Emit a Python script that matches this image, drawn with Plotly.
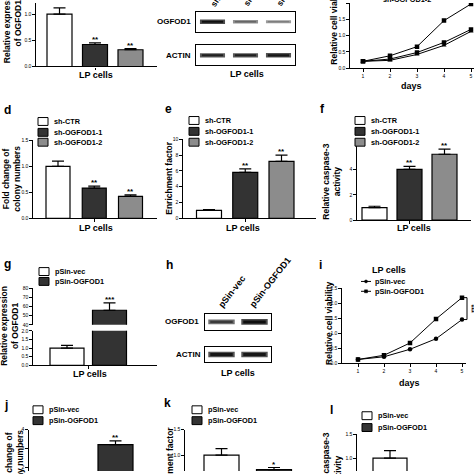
import plotly.graph_objects as go

# ---------------- data ----------------
sh_groups = ["sh-CTR", "sh-OGFOD1-1", "sh-OGFOD1-2"]
ps_groups = ["pSin-vec", "pSin-OGFOD1"]
bar_colors = ["#ffffff", "#333333", "#8c8c8c"]

a_expr = [1.00, 0.42, 0.32]
a_err = [0.12, 0.03, 0.02]
a_sig = ["", "**", "**"]

b_ogfod1_band = [1.0, 0.5, 0.42]
b_actin_band = [0.9, 0.9, 0.95]

days = [1, 2, 3, 4, 5]
c_ctr = [0.21, 0.38, 0.66, 1.46, 1.97]
c_sh1 = [0.21, 0.28, 0.48, 0.79, 1.19]
c_sh2 = [0.21, 0.24, 0.42, 0.70, 1.13]

d_colony = [1.00, 0.58, 0.42]
d_err = [0.10, 0.04, 0.03]
d_sig = ["", "**", "**"]

e_enrich = [1.0, 5.8, 7.2]
e_err = [0.08, 0.45, 0.8]
e_sig = ["", "**", "**"]

f_casp = [1.0, 4.0, 5.2]
f_err = [0.1, 0.25, 0.4]
f_sig = ["", "**", "**"]

g_expr = [1.0, 56.0]
g_err = [0.16, 8.0]
g_sig = ["", "***"]

h_ogfod1_band = [0.75, 1.0]
h_actin_band = [0.95, 0.95]

i_vec = [0.13, 0.22, 0.47, 0.82, 1.46]
i_ogfod1 = [0.13, 0.27, 0.68, 1.48, 2.19]
i_sig = "***"

j_colony = [1.0, 3.2]
j_err = [0.1, 0.2]
j_sig = ["", "**"]

k_enrich = [1.0, 0.72]
k_err = [0.13, 0.04]
k_sig = ["", "*"]

l_casp = [1.0, 0.6]
l_err = [0.16, 0.05]
l_sig = ["", ""]

# ---------------- helpers ----------------
W = H = 474
FONT = "Liberation Sans, Arial, sans-serif"
LW = 1.2
fig = go.Figure()
n_ax = [0]


def clamp(v):
    return max(0.0, min(1.0, v))


def xp(x):
    return x / W


def yp(y):
    return 1 - y / H


def ann(text, x, y, size=8.5, xanchor="center", yanchor="middle", angle=0,
        xref="paper", yref="paper", bold=True):
    if xref == "paper":
        x = xp(x)
    if yref == "paper":
        y = yp(y)
    fig.add_annotation(text=("<b>%s</b>" % text) if bold else text, x=x, y=y,
                       xref=xref, yref=yref, xanchor=xanchor, yanchor=yanchor,
                       textangle=angle, showarrow=False,
                       font=dict(family=FONT, size=size, color="black"))


def yaxis_style(tickvals, ticktext):
    return dict(showline=True, linecolor="black", linewidth=LW, ticks="outside",
                ticklen=2.5, tickwidth=1, tickcolor="black", tickvals=tickvals,
                ticktext=ticktext, showticklabels=True,
                tickfont=dict(family=FONT, size=5, color="black"))


def add_axes(xdom, ydom, xr, yr, xopts=None, yopts=None):
    n_ax[0] += 1
    n = n_ax[0]
    s = "" if n == 1 else str(n)
    xa = dict(domain=[clamp(xp(xdom[0])), clamp(xp(xdom[1]))], range=xr, anchor="y" + s,
              showgrid=False, zeroline=False, showline=False, ticks="",
              showticklabels=False, fixedrange=True)
    ya = dict(domain=[clamp(yp(ydom[1])), clamp(yp(ydom[0]))], range=yr, anchor="x" + s,
              showgrid=False, zeroline=False, showline=False, ticks="",
              showticklabels=False, fixedrange=True)
    xa.update(xopts or {})
    ya.update(yopts or {})
    fig.update_layout(**{"xaxis" + s: xa, "yaxis" + s: ya})
    return "x" + s, "y" + s


def add_extra_y(anchor_x, ydom, yr, yopts):
    n_ax[0] += 1
    s = str(n_ax[0])
    ya = dict(domain=[clamp(yp(ydom[1])), clamp(yp(ydom[0]))], range=yr, anchor=anchor_x,
              showgrid=False, zeroline=False, fixedrange=True)
    ya.update(yopts)
    fig.update_layout(**{"yaxis" + s: ya})
    return "y" + s


def bars(xref, yref, vals, errs, sigs, bw, colors, star_size=8):
    n = len(vals)
    fig.add_trace(go.Bar(
        x=list(range(n)), y=vals, width=bw, xaxis=xref, yaxis=yref,
        marker=dict(color=colors[:n], line=dict(color="black", width=LW)),
        error_y=dict(type="data", symmetric=False, array=errs, arrayminus=[0] * n,
                     color="black", thickness=LW, width=6),
        showlegend=False, hoverinfo="skip"))
    for i, (v, e, sg) in enumerate(zip(vals, errs, sigs)):
        if sg:
            fig.add_annotation(text="<b>%s</b>" % sg, x=i, y=v + e, xref=xref, yref=yref,
                               xanchor="center", yanchor="bottom", yshift=-3, showarrow=False,
                               font=dict(family=FONT, size=star_size, color="black"))


def bar_panel(vals, errs, sigs, x_left, x_right, c0, sp, bw_px, y_top, y_bot, v0_px,
              scale, tickvals, ticktext, show_xline=True):
    n = len(vals)
    xr = [-(c0 - x_left) / sp, (x_right - c0) / sp]
    top = max(y_top, 0)
    bot = min(y_bot, H)
    yr = [(v0_px - bot) / scale, (v0_px - top) / scale]
    xopts = dict(showline=show_xline, linecolor="black", linewidth=LW,
                 ticks="outside" if show_xline else "", ticklen=2.5, tickwidth=1,
                 tickcolor="black", tickvals=[(n - 1) / 2])
    xr_, yr_ = add_axes((x_left, x_right), (top, bot), xr, yr, xopts,
                        yaxis_style(tickvals, ticktext))
    bars(xr_, yr_, vals, errs, sigs, bw_px / sp, bar_colors)
    return xr_, yr_


def swatch_legend(labels, x_sq, rows, colors, size=7.3):
    for lab, ry, col in zip(labels, rows, colors):
        fig.add_shape(type="rect", xref="paper", yref="paper",
                      x0=xp(x_sq), x1=xp(x_sq + 10), y0=yp(ry + 4), y1=yp(ry - 4),
                      fillcolor=col, line=dict(color="black", width=1))
        ann(lab, x_sq + 14, ry, size=size, xanchor="left")


def blot(box, bands, hw, max_w):
    x0, x1, y0, y1 = box
    n = len(bands)
    ax_opt = dict(showline=True, mirror=True, linecolor="black", linewidth=1)
    xr_, yr_ = add_axes((x0, x1), (y0, y1), [-0.5, n - 0.5], [-1, 1], dict(ax_opt), dict(ax_opt))
    for i, b in enumerate(bands):
        w = 0.8 + max_w * b
        g_out = int(215 - 140 * b)
        g_in = int(190 - 175 * b)
        fig.add_trace(go.Scatter(x=[i - hw, i + hw], y=[0, 0], mode="lines",
                                 line=dict(color="rgb(%d,%d,%d)" % (g_out, g_out, g_out), width=w + 1.2),
                                 xaxis=xr_, yaxis=yr_, showlegend=False, hoverinfo="skip"))
        fig.add_trace(go.Scatter(x=[i - hw * 0.85, i + hw * 0.85], y=[0, 0], mode="lines",
                                 line=dict(color="rgb(%d,%d,%d)" % (g_in, g_in, g_in), width=max(w * 0.65, 1)),
                                 xaxis=xr_, yaxis=yr_, showlegend=False, hoverinfo="skip"))
    return xr_, yr_


dec = lambda vals: ["%.1f" % v for v in vals]

# ---------------- panel a ----------------
bar_panel(a_expr, a_err, a_sig, 36, 157, 59.5, 35.5, 25, 0, 64.3, 64.3, 53,
          [0, 0.5, 1.0, 1.5], dec([0, 0.5, 1.0, 1.5]))
ann("LP cells", 96, 73, size=9)
ann("Relative expression<br>of OGFOD1", 12, 63, size=8.5, yanchor="bottom", angle=-90)

# ---------------- panel b (blot) ----------------
blot((196, 295, 9, 29), b_ogfod1_band, 0.38, 2.6)
blot((196, 295, 43, 63), b_actin_band, 0.38, 2.6)
ann("OGFOD1", 193, 19, size=8, xanchor="right")
ann("ACTIN", 193, 53, size=8, xanchor="right")
ann("LP cells", 247, 72, size=9)
for i, lab in enumerate(sh_groups):
    ann(lab, 206 + 33 * i, 8, size=8.5, xanchor="left", yanchor="bottom", angle=-55)

# ---------------- panel c (line) ----------------
c_scale = 33.0
xc, yc = add_axes((350, 474), (0, 66),
                  [1 - 13 / 27.0, 1 + (474 - 363) / 27.0], [0, 66 / c_scale],
                  dict(showline=True, linecolor="black", linewidth=LW, ticks="outside", ticklen=2.5,
                       tickwidth=1, tickcolor="black", tickvals=days, showticklabels=True,
                       tickfont=dict(family=FONT, size=5, color="black")),
                  yaxis_style([0, 0.5, 1.0, 1.5, 2.0, 2.5], dec([0, 0.5, 1.0, 1.5, 2.0, 2.5])))
for ser, sym in [(c_sh2, "triangle-up"), (c_sh1, "square"), (c_ctr, "square")]:
    fig.add_trace(go.Scatter(x=days, y=ser, mode="lines+markers", xaxis=xc, yaxis=yc,
                             line=dict(color="black", width=1),
                             marker=dict(symbol=sym, size=4.5, color="black"),
                             showlegend=False, hoverinfo="skip"))
ann("days", 411, 84, size=9)
ann("Relative cell viability", 334, 65, size=8.5, yanchor="bottom", angle=-90)
ann(sh_groups[2], 381, 3, size=7.3, xanchor="left", yanchor="bottom")

# ---------------- panel d ----------------
ann("d", 2, 108, size=12, xanchor="left")
swatch_legend(sh_groups, 38, [120, 131, 141], bar_colors)
bar_panel(d_colony, d_err, d_sig, 33, 157, 58, 36.25, 24, 139, 218, 218, 52.6,
          [0, 0.5, 1.0, 1.5], dec([0, 0.5, 1.0, 1.5]))
ann("LP cells", 96, 228, size=9)
ann("Fold change of<br>colony numbers", 12, 178, size=8.5, angle=-90)

# ---------------- panel e ----------------
ann("e", 163, 107, size=12, xanchor="left")
swatch_legend(sh_groups, 189, [119, 130, 141], bar_colors)
bar_panel(e_enrich, e_err, e_sig, 183, 316, 209, 36.25, 25, 138, 218, 218, 8.0,
          [0, 2, 4, 6, 8, 10], ["0", "2", "4", "6", "8", "10"])
ann("LP cells", 243, 228, size=9)
ann("Enrichment factor", 169, 178, size=8.5, angle=-90)

# ---------------- panel f ----------------
ann("f", 318, 107, size=12, xanchor="left")
swatch_legend(sh_groups, 355, [119, 130, 141], bar_colors)
bar_panel(f_casp, f_err, f_sig, 357, 471, 374.5, 35, 25, 143, 220, 220, 12.85,
          [0, 2, 4, 6], ["0", "2", "4", "6"])
ann("LP cells", 414, 228, size=9)
ann("Relative caspase-3<br>activity", 332, 181, size=8.5, angle=-90)

# ---------------- panel g (broken axis) ----------------
ann("g", 2, 264, size=12, xanchor="left")
swatch_legend(ps_groups, 39, [272, 282], bar_colors)
g_c0, g_sp = 67, 42.5
g_xr = [-(g_c0 - 33) / g_sp, (157 - g_c0) / g_sp]
xg, yg_low = add_axes((33, 157), (332, 367), g_xr, [0, 2.0],
                      dict(showline=True, linecolor="black", linewidth=LW, ticks="outside",
                           ticklen=2.5, tickwidth=1, tickcolor="black", tickvals=[0.5]),
                      yaxis_style([0, 0.5, 1.0, 1.5, 2.0], dec([0, 0.5, 1.0, 1.5, 2.0])))
yg_up = add_extra_y(xg, (289, 326), [40, 80],
                    yaxis_style([40, 50, 60, 70, 80], ["40", "50", "60", "70", "80"]))
bars(xg, yg_low, g_expr, g_err, ["", ""], 34 / g_sp, bar_colors)
bars(xg, yg_up, g_expr, g_err, g_sig, 34 / g_sp, bar_colors)
ann("LP cells", 90, 376, size=9)
ann("Relative expression<br>of OGFOD1", 10, 327, size=8.5, angle=-90)

# ---------------- panel h (blot) ----------------
ann("h", 164, 265, size=12, xanchor="left")
blot((205, 271, 315, 331), h_ogfod1_band, 0.4, 3.8)
blot((205, 271, 348, 364), h_actin_band, 0.4, 3.8)
ann("OGFOD1", 201, 323, size=8, xanchor="right")
ann("ACTIN", 203, 356, size=8, xanchor="right")
ann("LP cells", 238, 375, size=9)
for i, lab in enumerate(ps_groups):
    ann(lab, 214 + 31 * i, 313, size=9, xanchor="left", yanchor="bottom", angle=-52)

# ---------------- panel i (line) ----------------
ann("i", 317, 265, size=12, xanchor="left")
i_scale = 76 / 2.5
xi, yi = add_axes((342, 466), (289, 365),
                  [1 - 16 / 26.0, 1 + (466 - 358) / 26.0], [0, 2.5],
                  dict(showline=True, linecolor="black", linewidth=LW, ticks="outside", ticklen=2.5,
                       tickwidth=1, tickcolor="black", tickvals=days, showticklabels=True,
                       tickfont=dict(family=FONT, size=5, color="black")),
                  yaxis_style([0, 0.5, 1.0, 1.5, 2.0, 2.5], dec([0, 0.5, 1.0, 1.5, 2.0, 2.5])))
for ser, sym in [(i_vec, "circle"), (i_ogfod1, "square")]:
    fig.add_trace(go.Scatter(x=days, y=ser, mode="lines+markers", xaxis=xi, yaxis=yi,
                             line=dict(color="black", width=1),
                             marker=dict(symbol=sym, size=4.5, color="black"),
                             showlegend=False, hoverinfo="skip"))
ann("LP cells", 389, 270, size=9)
for lab, ry, sym in zip(ps_groups, [282, 292], ["circle", "rect"]):
    fig.add_shape(type="line", xref="paper", yref="paper", x0=xp(361), x1=xp(371),
                  y0=yp(ry), y1=yp(ry), line=dict(color="black", width=1))
    fig.add_shape(type=sym, xref="paper", yref="paper", x0=xp(364.5), x1=xp(367.5),
                  y0=yp(ry + 1.5), y1=yp(ry - 1.5), fillcolor="black", line=dict(color="black", width=0.5))
    ann(lab, 373, ry, size=7.3, xanchor="left")
y_hi = 365 - i_ogfod1[-1] * i_scale
y_lo = 365 - i_vec[-1] * i_scale
for y0, y1, x0, x1 in [(y_hi, y_lo, 467, 467), (y_hi, y_hi, 464, 467), (y_lo, y_lo, 464, 467)]:
    fig.add_shape(type="line", xref="paper", yref="paper", x0=xp(x0), x1=xp(x1),
                  y0=yp(y0), y1=yp(y1), line=dict(color="black", width=1))
ann(i_sig, 471, (y_hi + y_lo) / 2, size=7, angle=90)
ann("days", 409, 385, size=9)
ann("Relative cell viability", 329, 325, size=8.5, angle=-90)

# ---------------- panel j ----------------
ann("j", 2, 407, size=12, xanchor="left")
swatch_legend(ps_groups, 33, [412, 423], bar_colors)
bar_panel(j_colony, j_err, j_sig, 29, 157, 73, 42.5, 35, 432, 508, 508, 19,
          [0, 1, 2, 3, 4], ["0", "1", "2", "3", "4"], show_xline=False)
ann("Fold change of<br>colony numbers", 15, 430, size=8.5, yanchor="top", angle=-90)

# ---------------- panel k ----------------
ann("k", 162, 405, size=12, xanchor="left")
swatch_legend(ps_groups, 192, [412, 423], bar_colors)
bar_panel(k_enrich, k_err, k_sig, 185, 317, 221.5, 52.5, 35, 432, 510, 510, 52,
          [0, 0.5, 1.0, 1.5], dec([0, 0.5, 1.0, 1.5]), show_xline=False)
ann("Enrichment factor", 170, 428, size=8.5, yanchor="top", angle=-90)

# ---------------- panel l ----------------
ann("l", 328, 412, size=12, xanchor="left")
swatch_legend(ps_groups, 362, [418, 430], bar_colors)
bar_panel(l_casp, l_err, l_sig, 357, 471, 390, 45, 34, 437, 509, 509, 48,
          [0, 0.5, 1.0, 1.5], dec([0, 0.5, 1.0, 1.5]), show_xline=False)
ann("Relative caspase-3<br>activity", 332, 433, size=8.5, yanchor="top", angle=-90)

fig.update_layout(width=W, height=H, margin=dict(l=0, r=0, t=0, b=0),
                  paper_bgcolor="white", plot_bgcolor="rgba(0,0,0,0)",
                  showlegend=False, font=dict(family=FONT, color="black"),
                  barmode="overlay")
fig.write_html("out.html", config={"displayModeBar": False},
               post_script="document.body.style.margin='0';document.body.style.overflow='hidden';")
